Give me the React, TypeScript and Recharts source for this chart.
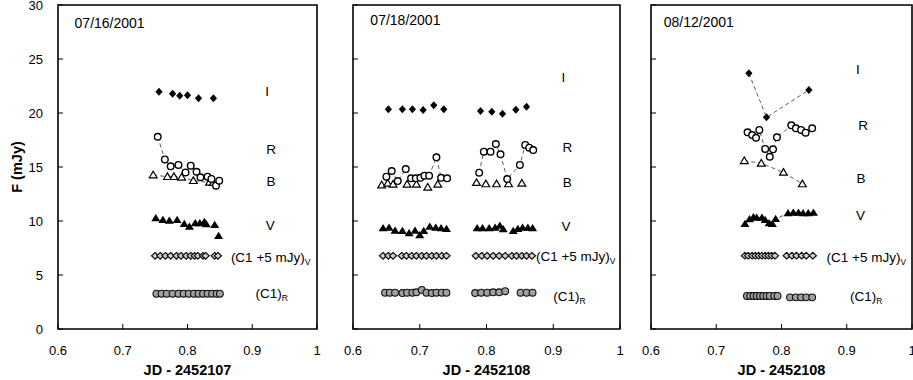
import React from 'react';
import { ScatterChart, Scatter, XAxis, YAxis, ReferenceArea } from 'recharts';

type Pt = [number, number] | null;

const X_TICKS = [0.6, 0.7, 0.8, 0.9, 1];
const Y_TICKS = [0, 5, 10, 15, 20, 25, 30];

// ---------- Panel 1 : 07/16/2001 ----------
const P1_I: Pt[] = [[0.756, 21.97], [0.777, 21.79], [0.788, 21.6], [0.8, 21.64], [0.817, 21.36], [0.84, 21.36]];
const P1_R: Pt[] = [[0.754, 17.8], [0.765, 15.7], [0.774, 15.06], [0.786, 15.19], [0.797, 14.5], [0.805, 15.12], [0.814, 14.56], [0.82, 14.05], [0.831, 14.1], [0.837, 13.9], [0.844, 13.27], [0.849, 13.73]];
const P1_B: Pt[] = [[0.747, 14.26], [0.769, 14.1], [0.779, 14.1], [0.791, 14.05], [0.809, 13.73], [0.834, 13.58], [0.84, 13.55]];
const P1_V: Pt[] = [[0.751, 10.25], [0.762, 10.09], [0.772, 10.03], [0.784, 10.09], [0.795, 9.72], [0.803, 9.47], [0.812, 9.79], [0.819, 9.79], [0.826, 9.9], [0.829, 9.69], [0.842, 9.63], [0.848, 8.61]];
const P1_C1V: Pt[] = [[0.75, 6.78], [0.758, 6.78], [0.766, 6.78], [0.774, 6.78], [0.783, 6.78], [0.79, 6.78], [0.798, 6.78], [0.805, 6.78], [0.811, 6.78], [0.816, 6.78], [0.824, 6.78], [0.828, 6.78], [0.842, 6.78], [0.847, 6.78]];
const P1_C1R: Pt[] = [[0.752, 3.27], [0.76, 3.27], [0.768, 3.27], [0.777, 3.27], [0.786, 3.27], [0.794, 3.27], [0.802, 3.27], [0.81, 3.27], [0.817, 3.27], [0.824, 3.27], [0.831, 3.27], [0.838, 3.27], [0.845, 3.27], [0.85, 3.27]];
const P1_LABELS = [
  { x: 0.6256, y: 28.3, text: '07/16/2001', anchor: 'start', size: 14 },
  { x: 0.923, y: 22.04, text: 'I', anchor: 'middle', size: 13.5 },
  { x: 0.929, y: 16.7, text: 'R', anchor: 'middle', size: 13.5 },
  { x: 0.929, y: 13.7, text: 'B', anchor: 'middle', size: 13.5 },
  { x: 0.928, y: 9.6, text: 'V', anchor: 'middle', size: 13.5 },
  { x: 0.867, y: 6.7, text: '(C1 +5 mJy)', sub: 'V', anchor: 'start', size: 13.5 },
  { x: 0.905, y: 3.35, text: '(C1)', sub: 'R', anchor: 'start', size: 13.5 },
];

// ---------- Panel 2 : 07/18/2001 ----------
const P2_I: Pt[] = [[0.653, 20.34], [0.674, 20.34], [0.689, 20.34], [0.705, 20.28], [0.721, 20.71], [0.736, 20.34], null, [0.791, 20.19], [0.808, 20.12], [0.824, 19.94], [0.844, 20.31], [0.86, 20.58]];
const P2_R: Pt[] = [[0.65, 14.1], [0.658, 14.63], [0.667, 13.7], [0.679, 14.81], [0.687, 13.95], [0.694, 13.95], [0.701, 14.0], [0.707, 14.2], [0.714, 14.2], [0.725, 15.9], [0.732, 14.0], [0.741, 13.95], null, [0.789, 14.47], [0.796, 16.42], [0.806, 16.42], [0.814, 17.13], [0.821, 16.18], [0.831, 13.89], [0.85, 15.19], [0.858, 17.04], [0.864, 16.79], [0.87, 16.57]];
const P2_B: Pt[] = [[0.643, 13.33], [0.652, 13.49], [0.66, 13.4], [0.681, 13.4], [0.695, 13.4], [0.712, 13.12], [0.727, 13.4], null, [0.785, 13.55], [0.799, 13.43], [0.815, 13.43], [0.833, 13.43], [0.853, 13.49]];
const P2_V: Pt[] = [[0.645, 9.32], [0.654, 9.38], [0.663, 9.1], [0.674, 9.07], [0.684, 8.86], [0.693, 9.1], [0.7, 8.68], [0.706, 9.07], [0.715, 9.47], [0.724, 9.38], [0.732, 9.32], [0.74, 9.26], null, [0.786, 9.32], [0.794, 9.32], [0.804, 9.32], [0.813, 9.38], [0.82, 9.56], [0.825, 9.23], [0.84, 9.07], [0.847, 9.26], [0.854, 9.38], [0.862, 9.38], [0.869, 9.32]];
const P2_C1V: Pt[] = [[0.645, 6.78], [0.653, 6.78], [0.66, 6.78], [0.673, 6.78], [0.68, 6.78], [0.688, 6.78], [0.695, 6.78], [0.703, 6.78], [0.71, 6.78], [0.718, 6.78], [0.725, 6.78], [0.733, 6.78], [0.74, 6.78], [0.784, 6.78], [0.793, 6.78], [0.801, 6.78], [0.81, 6.78], [0.819, 6.78], [0.828, 6.78], [0.838, 6.78], [0.845, 6.78], [0.853, 6.78], [0.86, 6.78], [0.868, 6.78]];
const P2_C1R: Pt[] = [[0.648, 3.36], [0.655, 3.36], [0.663, 3.36], [0.674, 3.33], [0.681, 3.36], [0.689, 3.36], [0.695, 3.4], [0.703, 3.62], [0.71, 3.36], [0.718, 3.33], [0.725, 3.36], [0.733, 3.36], [0.74, 3.36], [0.783, 3.33], [0.792, 3.36], [0.801, 3.36], [0.81, 3.4], [0.819, 3.4], [0.828, 3.5], [0.851, 3.36], [0.86, 3.36], [0.869, 3.36]];
const P2_LABELS = [
  { x: 0.626, y: 28.6, text: '07/18/2001', anchor: 'start', size: 14 },
  { x: 0.915, y: 23.36, text: 'I', anchor: 'middle', size: 13.5 },
  { x: 0.921, y: 16.88, text: 'R', anchor: 'middle', size: 13.5 },
  { x: 0.921, y: 13.64, text: 'B', anchor: 'middle', size: 13.5 },
  { x: 0.919, y: 9.57, text: 'V', anchor: 'middle', size: 13.5 },
  { x: 0.874, y: 6.76, text: '(C1 +5 mJy)', sub: 'V', anchor: 'start', size: 13.5 },
  { x: 0.9, y: 3.0, text: '(C1)', sub: 'R', anchor: 'start', size: 13.5 },
];

// ---------- Panel 3 : 08/12/2001 ----------
const P3_I: Pt[] = [[0.75, 23.68], [0.777, 19.6], [0.842, 22.13]];
const P3_R: Pt[] = [[0.748, 18.21], [0.755, 17.96], [0.761, 17.71], [0.766, 18.43], [0.775, 16.67], [0.782, 15.95], [0.787, 16.64], [0.793, 17.75], [0.815, 18.86], [0.822, 18.58], [0.83, 18.43], [0.837, 18.18], [0.847, 18.58]];
const P3_B: Pt[] = [[0.743, 15.58], [0.769, 15.34], [0.803, 14.5], [0.832, 13.43]];
const P3_V: Pt[] = [[0.744, 9.72], [0.751, 10.16], [0.757, 10.34], [0.762, 10.3], [0.77, 10.3], [0.775, 10.09], [0.781, 9.79], [0.786, 9.72], [0.791, 10.19], [0.81, 10.71], [0.818, 10.77], [0.826, 10.77], [0.833, 10.71], [0.841, 10.71], [0.849, 10.77]];
const P3_C1V: Pt[] = [[0.744, 6.79], [0.749, 6.79], [0.755, 6.79], [0.76, 6.79], [0.765, 6.79], [0.77, 6.79], [0.775, 6.79], [0.78, 6.79], [0.785, 6.79], [0.79, 6.79], [0.808, 6.79], [0.816, 6.79], [0.823, 6.79], [0.831, 6.79], [0.838, 6.79], [0.848, 6.79]];
const P3_C1R: Pt[] = [[0.747, 3.06], [0.752, 3.06], [0.757, 3.06], [0.762, 3.06], [0.767, 3.06], [0.772, 3.06], [0.777, 3.06], [0.782, 3.06], [0.789, 3.06], [0.794, 3.06], [0.813, 2.93], [0.822, 2.93], [0.83, 2.93], [0.838, 2.93], [0.847, 2.93]];
const P3_LABELS = [
  { x: 0.6196, y: 28.45, text: '08/12/2001', anchor: 'start', size: 14 },
  { x: 0.917, y: 24.07, text: 'I', anchor: 'middle', size: 13.5 },
  { x: 0.925, y: 18.89, text: 'R', anchor: 'middle', size: 13.5 },
  { x: 0.922, y: 13.95, text: 'B', anchor: 'middle', size: 13.5 },
  { x: 0.921, y: 10.56, text: 'V', anchor: 'middle', size: 13.5 },
  { x: 0.869, y: 6.64, text: '(C1 +5 mJy)', sub: 'V', anchor: 'start', size: 13.5 },
  { x: 0.905, y: 3.0, text: '(C1)', sub: 'R', anchor: 'start', size: 13.5 },
];

const FONT = '"Liberation Sans", Arial, Helvetica, sans-serif';
const H = 380;
const X_AXIS_H = 51;

const LINE_STYLE = { stroke: '#333', strokeWidth: 0.8, strokeDasharray: '4 3', fill: 'none' };

function segments(pts: Pt[]) {
  const out: { x: number; y: number }[][] = [];
  let cur: { x: number; y: number }[] = [];
  pts.forEach((p) => {
    if (p === null) {
      if (cur.length) out.push(cur);
      cur = [];
    } else cur.push({ x: p[0], y: p[1] });
  });
  if (cur.length) out.push(cur);
  return out;
}

const DiamondFilled = (p: any) => (
  <polygon points={`${p.cx},${p.cy - 4} ${p.cx + 3.6},${p.cy} ${p.cx},${p.cy + 4} ${p.cx - 3.6},${p.cy}`} fill="#000" />
);
const CircleOpen = (p: any) => <circle cx={p.cx} cy={p.cy} r={3.3} fill="#fff" stroke="#000" strokeWidth={1.4} />;
const TriOpen = (p: any) => (
  <polygon points={`${p.cx},${p.cy - 3.8} ${p.cx + 3.9},${p.cy + 2.8} ${p.cx - 3.9},${p.cy + 2.8}`} fill="#fff" stroke="#000" strokeWidth={1.2} />
);
const TriFilled = (p: any) => (
  <polygon points={`${p.cx},${p.cy - 4.3} ${p.cx + 4.5},${p.cy + 3} ${p.cx - 4.5},${p.cy + 3}`} fill="#000" />
);
const DiamondGray = (p: any) => (
  <polygon points={`${p.cx},${p.cy - 3.3} ${p.cx + 3.6},${p.cy} ${p.cx},${p.cy + 3.3} ${p.cx - 3.6},${p.cy}`} fill="#cfcfcf" stroke="#111" strokeWidth={1.2} />
);
const CircleGray = (p: any) => <circle cx={p.cx} cy={p.cy} r={3.4} fill="#a0a0a0" stroke="#111" strokeWidth={1.1} />;

const LabelShape = (p: any) => {
  const d = p.payload || {};
  return (
    <text x={p.cx} y={p.cy} dy="0.36em" textAnchor={d.anchor} fontFamily={FONT} fontSize={d.size} fill="#000">
      {d.text}
      {d.sub ? (
        <tspan fontSize={8.5} dy={3}>
          {d.sub}
        </tspan>
      ) : null}
    </text>
  );
};

type SeriesDef = { pts: Pt[]; shape: any; line: boolean };

type PanelDef = {
  left: number;
  width: number;
  yAxisWidth: number;
  marginRight: number;
  showY: boolean;
  xTitle: string;
  series: SeriesDef[];
  labels: any[];
};

const PANELS: PanelDef[] = [
  {
    left: 0, width: 330, yAxisWidth: 58, marginRight: 13, showY: true, xTitle: 'JD - 2452107',
    series: [
      { pts: P1_C1R, shape: CircleGray, line: false },
      { pts: P1_C1V, shape: DiamondGray, line: false },
      { pts: P1_V, shape: TriFilled, line: false },
      { pts: P1_B, shape: TriOpen, line: true },
      { pts: P1_R, shape: CircleOpen, line: true },
      { pts: P1_I, shape: DiamondFilled, line: false },
    ],
    labels: P1_LABELS,
  },
  {
    left: 330, width: 300, yAxisWidth: 23, marginRight: 10, showY: false, xTitle: 'JD - 2452108',
    series: [
      { pts: P2_C1R, shape: CircleGray, line: false },
      { pts: P2_C1V, shape: DiamondGray, line: false },
      { pts: P2_V, shape: TriFilled, line: false },
      { pts: P2_B, shape: TriOpen, line: false },
      { pts: P2_R, shape: CircleOpen, line: true },
      { pts: P2_I, shape: DiamondFilled, line: false },
    ],
    labels: P2_LABELS,
  },
  {
    left: 630, width: 283, yAxisWidth: 21, marginRight: 1, showY: false, xTitle: 'JD - 2452108',
    series: [
      { pts: P3_C1R, shape: CircleGray, line: false },
      { pts: P3_C1V, shape: DiamondGray, line: false },
      { pts: P3_V, shape: TriFilled, line: true },
      { pts: P3_B, shape: TriOpen, line: true },
      { pts: P3_R, shape: CircleOpen, line: true },
      { pts: P3_I, shape: DiamondFilled, line: true },
    ],
    labels: P3_LABELS,
  },
];

const makeXTick = () => (props: any) => {
  const { x, y, payload } = props;
  return (
    <g>
      <line x1={x} x2={x} y1={y} y2={y - 5} stroke="#000" strokeWidth={1} />
      <text x={x} y={y + 26} textAnchor="middle" fontFamily={FONT} fontSize={13} fill="#000">
        {String(payload.value)}
      </text>
    </g>
  );
};

const makeYTick = (showLabel: boolean) => (props: any) => {
  const { x, y, payload } = props;
  return (
    <g>
      <line x1={x} x2={x + 5} y1={y} y2={y} stroke="#000" strokeWidth={1} />
      {showLabel ? (
        <text x={x - 15} y={y} dy="0.4em" textAnchor="end" fontFamily={FONT} fontSize={13} fill="#000">
          {String(payload.value)}
        </text>
      ) : null}
    </g>
  );
};

function Panel({ def }: { def: PanelDef }) {
  return (
    <div style={{ position: 'absolute', left: def.left, top: 0 }}>
      <ScatterChart width={def.width} height={H} margin={{ top: 5, right: def.marginRight, bottom: 0, left: 0 }}>
        <XAxis
          type="number"
          dataKey="x"
          domain={[0.6, 1]}
          ticks={X_TICKS}
          interval={0}
          allowDataOverflow
          tickSize={0}
          tickMargin={0}
          axisLine={false}
          height={X_AXIS_H}
          tick={makeXTick()}
          label={{
            value: def.xTitle,
            position: 'insideBottom',
            offset: 5,
            style: { fontFamily: FONT, fontSize: 14.5, fontWeight: 'bold', fill: '#000' },
          }}
        />
        <YAxis
          type="number"
          dataKey="y"
          domain={[0, 30]}
          ticks={Y_TICKS}
          interval={0}
          allowDataOverflow
          tickSize={0}
          tickMargin={0}
          axisLine={false}
          width={def.yAxisWidth}
          tick={makeYTick(def.showY)}
          label={
            def.showY
              ? {
                  content: (lp: any) => {
                    const vb = lp.viewBox || { y: 5, height: 324 };
                    const cy = vb.y + vb.height / 2;
                    return (
                      <text
                        transform={`translate(17, ${cy}) rotate(-90)`}
                        textAnchor="middle"
                        dy="0.36em"
                        fontFamily={FONT}
                        fontSize={14.5}
                        fontWeight="bold"
                        fill="#000"
                      >
                        F (mJy)
                      </text>
                    );
                  },
                }
              : undefined
          }
        />
        <ReferenceArea x1={0.6} x2={1} y1={0} y2={30} fill="none" fillOpacity={0} stroke="#000" strokeWidth={1.6} ifOverflow="visible" />
        {def.series.map((s, si) =>
          segments(s.pts).map((seg, gi) => (
            <Scatter
              key={`s${si}-${gi}`}
              data={seg}
              shape={s.shape}
              line={s.line ? LINE_STYLE : false}
              isAnimationActive={false}
            />
          ))
        )}
        <Scatter data={def.labels} shape={LabelShape} isAnimationActive={false} />
      </ScatterChart>
    </div>
  );
}

export default function App() {
  return (
    <div style={{ position: 'absolute', left: 0, top: 0, width: 913, height: 380, background: '#fff', overflow: 'hidden' }}>
      {PANELS.map((p, i) => (
        <Panel key={i} def={p} />
      ))}
    </div>
  );
}
